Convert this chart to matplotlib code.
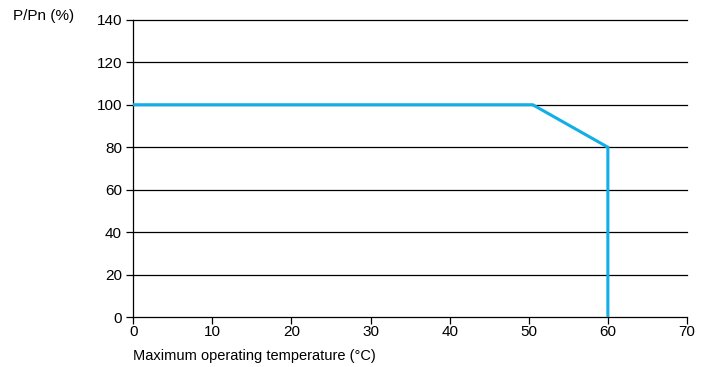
import matplotlib
matplotlib.use("Agg")
import matplotlib.pyplot as plt

plt.rcParams['font.family'] = ['Liberation Sans', 'DejaVu Sans']

temp = [0, 50.5, 60, 60]
power = [100, 100, 80, 0]
xticks = [0, 10, 20, 30, 40, 50, 60, 70]
yticks = [0, 20, 40, 60, 80, 100, 120, 140]

fig = plt.figure(figsize=(7.01, 3.67), dpi=100)
ax = fig.add_axes([0.19, 0.136, 0.79, 0.81])
ax.set_xlim(0, 70)
ax.set_ylim(0, 140)
for y in yticks:
    ax.axhline(y, color='black', lw=0.9, zorder=1, clip_on=False)
ax.plot(temp, power, color='#11aee8', lw=2.2, zorder=3, solid_joinstyle='miter')
for s in ['top', 'right', 'bottom']:
    ax.spines[s].set_visible(False)
ax.spines['left'].set_linewidth(0.9)
ax.set_xticks(xticks)
ax.set_yticks(yticks)
ax.tick_params(axis='both', labelsize=11, length=5, width=0.9, color='black')
ax.tick_params(axis='x', pad=1)
ax.tick_params(axis='y', pad=3)
fig.text(0.018, 0.957, 'P/Pn (%)', fontsize=11, ha='left', va='center')
fig.text(0.19, 0.03, 'Maximum operating temperature (°C)', fontsize=10.5, ha='left', va='center')
fig.savefig('out.png', dpi=100)
